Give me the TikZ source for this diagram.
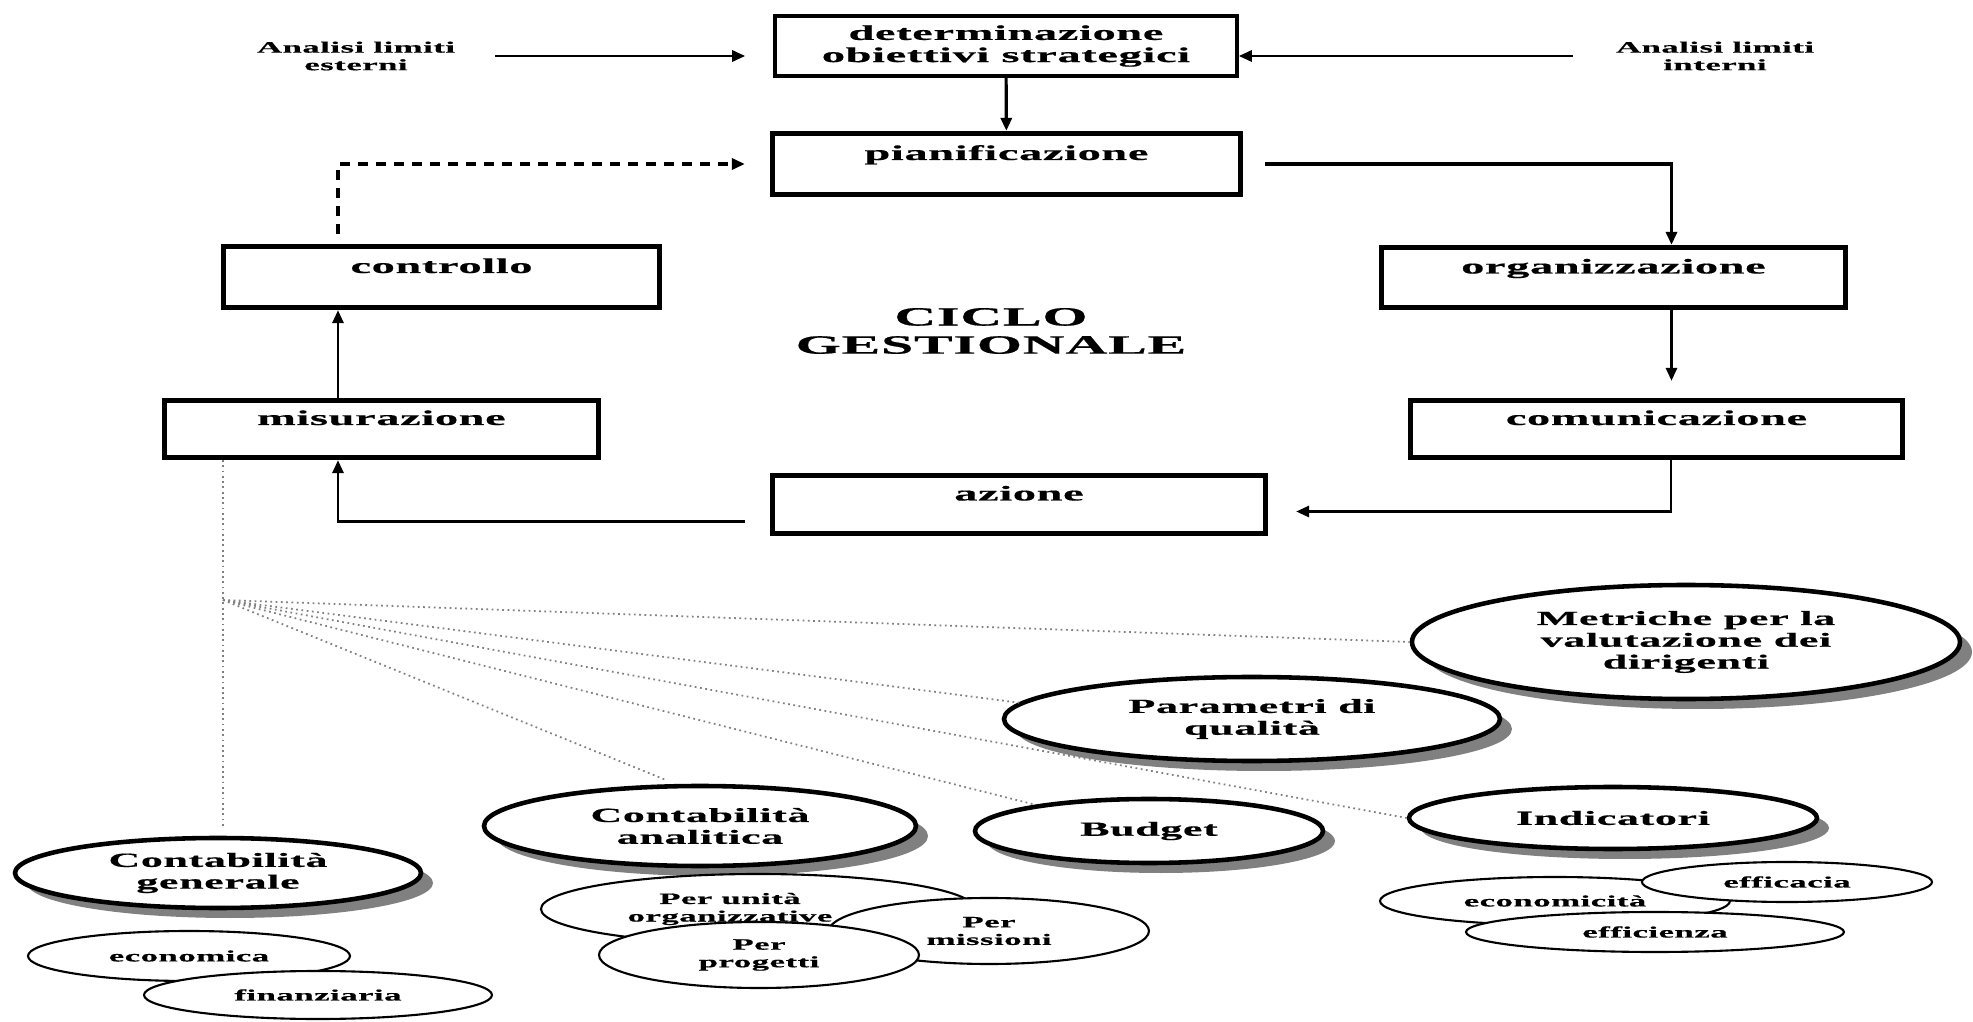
\documentclass[tikz,border=0pt]{standalone}
\usepackage{fontspec}
\setmainfont{Liberation Serif}[FakeStretch=2.2,LetterSpace=3,BoldFeatures={FakeBold=0.6}]
\usetikzlibrary{arrows.meta,shapes.geometric,shadows}

\newcommand\bxtxt{\fontsize{6}{6.3}\selectfont\bfseries}
\newcommand\elltxt{\fontsize{5.7}{6.2}\selectfont\bfseries}
\newcommand\smalltxt{\fontsize{4.5}{5}\selectfont\bfseries}
\newcommand\sidetxt{\fontsize{4.5}{5}\selectfont\bfseries}

\tikzset{
    cyclebox/.style={draw, rectangle, line width=1.5pt, inner sep=0pt, align=center, font=\bxtxt},
    stepbox/.style={cyclebox, text height=2mm, text depth=2.8mm},
    arr/.style={-{Triangle[length=1.3mm,width=1.1mm]}, line width=0.8pt},
    bigell/.style={ellipse, draw, line width=1.3pt, fill=white, inner sep=0pt, align=center, font=\elltxt,
        drop shadow={shadow xshift=1.2mm, shadow yshift=-1mm, fill=black!50, opacity=1}},
    smallell/.style={ellipse, draw, line width=0.6pt, fill=white, inner sep=0pt, align=center, font=\smalltxt},
    fanline/.style={gray, densely dotted, line width=0.5pt}
}

\begin{document}
\begin{tikzpicture}
    \useasboundingbox (0,0) rectangle (19.73,10.21);

    % ciclo gestionale
    \node[cyclebox, line width=1pt, minimum width=46.2mm, minimum height=6mm] (det) at (10.06,9.75) {determinazione\\obiettivi strategici};
    \node[stepbox, minimum width=46.8mm, minimum height=6.1mm] (pian) at (10.065,8.57) {pianificazione};
    \node[stepbox, minimum width=43.6mm, minimum height=6.1mm] (ctrl) at (4.415,7.44) {controllo};
    \node[stepbox, minimum width=46.4mm, minimum height=6mm] (org) at (16.135,7.435) {organizzazione};
    \node[stepbox, minimum width=43.4mm, minimum height=5.7mm] (mis) at (3.815,5.92) {misurazione};
    \node[stepbox, minimum width=49.2mm, minimum height=5.7mm] (com) at (16.565,5.92) {comunicazione};
    \node[stepbox, minimum width=49.3mm, minimum height=5.8mm] (az) at (10.19,5.165) {azione};

    \node[font=\sidetxt, align=center] (est) at (3.56,9.65) {Analisi limiti\\esterni};
    \node[font=\sidetxt, align=center] (int) at (17.15,9.65) {Analisi limiti\\interni};
    \node[font=\fontsize{7.5}{8}\selectfont\bfseries, align=center] (ciclo) at (9.91,6.90) {CICLO\\GESTIONALE};

    \draw[arr, shorten <=2.8mm, shorten >=2.8mm] (est.east) -- (est.east -| det.west);
    \draw[arr, shorten <=3.1mm] (int.west) -- (int.west -| det.east);
    \draw[arr, line width=0.9pt] (det) -- (pian);
    \draw[arr, line width=1.1pt, shorten <=2.2mm] (pian.east) -| ([xshift=5.8mm]org.north);
    \draw[arr, shorten >=1.7mm] ([xshift=5.8mm]org.south) -- ([xshift=5.8mm]org.south |- com.north);
    \draw[arr, shorten >=2.8mm] ([xshift=1.45mm]com.south) |- ([yshift=-0.7mm]az.east);
    \draw[arr, shorten <=2.5mm] ([yshift=-1.7mm]az.west) -| ([xshift=-4.35mm]mis.south);
    \draw[arr] ([xshift=-4.35mm]mis.north) -- ([xshift=-4.35mm]mis.north |- ctrl.south);
    \draw[arr, line width=1.3pt, dash pattern=on 1mm off 0.8mm, shorten <=1mm, shorten >=2.5mm]
        ([xshift=-10.35mm]ctrl.north) |- (pian.west);

    % strumenti di misurazione
    \node[bigell, minimum width=54.8mm, minimum height=11.4mm] (met) at (16.86,3.79) {Metriche per la\\valutazione dei\\dirigenti};
    \node[bigell, minimum width=49.6mm, minimum height=8.4mm] (par) at (12.52,3.02) {Parametri di\\qualità};
    \node[bigell, minimum width=40.8mm, minimum height=6.2mm] (ind) at (16.13,2.03) {Indicatori};
    \node[bigell, minimum width=34.8mm, minimum height=6.4mm] (bud) at (11.49,1.90) {Budget};
    \node[bigell, minimum width=43.2mm, minimum height=8mm] (ca) at (7.00,1.95) {Contabilità\\analitica};
    \node[bigell, minimum width=40.6mm, minimum height=7mm] (cg) at (2.18,1.48) {Contabilità\\generale};

    \node[smallell, minimum width=32.2mm, minimum height=5mm] (econ) at (1.89,0.65) {economica};
    \node[smallell, minimum width=34.8mm, minimum height=4.8mm] (fin) at (3.18,0.26) {finanziaria};
    \node[smallell, minimum width=43.4mm, minimum height=7mm] (uni) at (7.58,1.12) {\hspace*{-5.6mm}Per unità\\\hspace*{-5.6mm}organizzative};
    \node[smallell, minimum width=32mm, minimum height=6.6mm] (miss) at (9.89,0.90) {Per\\missioni};
    \node[smallell, minimum width=32mm, minimum height=6.6mm] (prog) at (7.59,0.66) {Per\\progetti};
    \node[smallell, minimum width=35mm, minimum height=4.8mm] (ecta) at (15.55,1.20) {economicità};
    \node[smallell, minimum width=29mm, minimum height=4mm] (effa) at (17.87,1.39) {efficacia};
    \node[smallell, minimum width=37.8mm, minimum height=4mm] (effi) at (16.55,0.89) {efficienza};

    \coordinate (fan) at (2.23,4.21);
    \draw[fanline, shorten >=1mm] (fan |- mis.south) -- (fan |- cg.north);
    \foreach \e/\a in {met/west, par/176, bud/167, ind/west}
        \draw[fanline] (fan) -- (\e.\a);
    \draw[fanline, shorten >=1.2mm] (fan) -- (ca.120);
\end{tikzpicture}
\end{document}
